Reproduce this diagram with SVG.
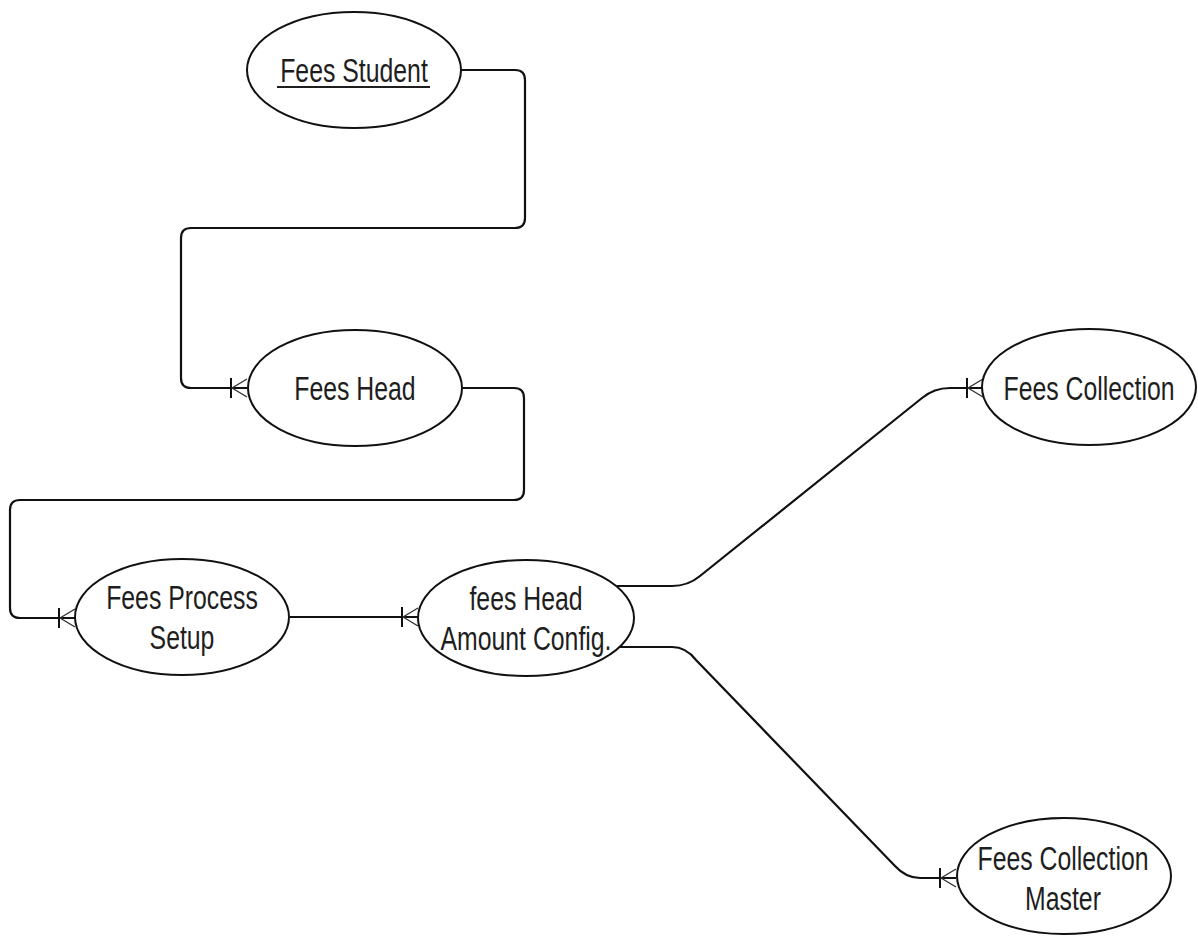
<svg xmlns="http://www.w3.org/2000/svg" width="1198" height="938" viewBox="0 0 1198 938">
  <style>
    .entity { fill: #ffffff; stroke: #111111; stroke-width: 2; }
    .label { font-family: "Liberation Sans", Arial, sans-serif; font-size: 34px; fill: #1e1e1e; text-anchor: middle; }
    .link { fill: none; stroke: #111111; stroke-width: 2.2; marker-end: url(#many); }
  </style>
  <defs>
    <!-- crow's foot (one-or-many) end -->
    <marker id="many" viewBox="-20 -12 24 24" refX="0" refY="0" markerWidth="24" markerHeight="24" markerUnits="userSpaceOnUse" orient="auto" overflow="visible">
      <path d="M-16,-10 L-16,10" stroke="#111111" stroke-width="2" fill="none"/>
      <path d="M-15,0 L0,-9 M-15,0 L0,9" stroke="#333333" stroke-width="1.4" fill="none"/>
    </marker>
  </defs>
  <rect width="1198" height="938" fill="#ffffff"/>

  <g id="connectors">
    <path class="link" d="M460,70 H515 Q525,70 525,80 V218 Q525,228 515,228 H191 Q181,228 181,238 V378 Q181,388 191,388 H247"/>
    <path class="link" d="M461,388 H514 Q524,388 524,398 V490 Q524,500 514,500 H20 Q10,500 10,510 V608 Q10,618 20,618 H75"/>
    <path class="link" d="M290,617 H418"/>
    <path class="link" d="M617,586 H672 Q688,586 700,576 L922,398 Q934,388 950,388 H983"/>
    <path class="link" d="M614,647 H672 Q686,647 696,660 L895,866 Q906,878 920,878 H956"/>
  </g>

  <g id="fees-student">
    <ellipse class="entity" cx="354" cy="70" rx="107" ry="58"/>
    <text class="label" transform="translate(354,82) scale(0.73,1)">Fees Student</text>
    <line x1="277" y1="87" x2="430" y2="87" stroke="#1e1e1e" stroke-width="2"/>
  </g>

  <g id="fees-head">
    <ellipse class="entity" cx="355" cy="388" rx="107" ry="58"/>
    <text class="label" transform="translate(355,400) scale(0.73,1)">Fees Head</text>
  </g>

  <g id="fees-process-setup">
    <ellipse class="entity" cx="182" cy="617" rx="107" ry="58"/>
    <text class="label" transform="translate(182,609) scale(0.73,1)">Fees Process</text>
    <text class="label" transform="translate(182,649) scale(0.73,1)">Setup</text>
  </g>

  <g id="fees-head-amount-config">
    <ellipse class="entity" cx="526" cy="618" rx="108" ry="58"/>
    <text class="label" transform="translate(526,610) scale(0.73,1)">fees Head</text>
    <text class="label" transform="translate(526,650) scale(0.73,1)">Amount Config.</text>
  </g>

  <g id="fees-collection">
    <ellipse class="entity" cx="1089" cy="387" rx="107" ry="58"/>
    <text class="label" transform="translate(1089,400) scale(0.73,1)">Fees Collection</text>
  </g>

  <g id="fees-collection-master">
    <ellipse class="entity" cx="1064" cy="876" rx="107" ry="58"/>
    <text class="label" transform="translate(1063,870) scale(0.73,1)">Fees Collection</text>
    <text class="label" transform="translate(1063,910) scale(0.73,1)">Master</text>
  </g>
</svg>
